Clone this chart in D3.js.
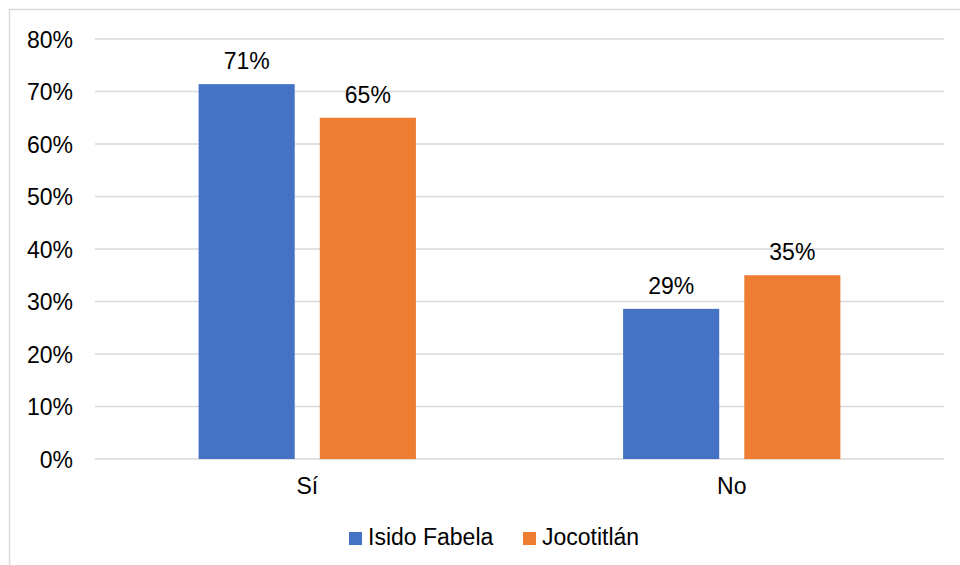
<!DOCTYPE html>
<html>
<head>
  <meta charset="utf-8">
  <script src="https://d3js.org/d3.v7.min.js"></script>
  <style>
  body { margin:0; background:#fff; }
  svg { font-family: "Liberation Sans", Arial, sans-serif; }
  .axis text { font-size: 23px; fill: #000; }
  .axis path, .axis line { display: none; }
</style>
</head>
<body>
<script>
  var categories = ["Sí", "No"];
  var seriesNames = ["Isido Fabela", "Jocotitlán"];
  var isidoFabela = [71.4, 28.6];
  var jocotitlan = [65, 35];
  var valueLabels = [["71%", "29%"], ["65%", "35%"]];
  var yTicks = [0, 10, 20, 30, 40, 50, 60, 70, 80];
  var colors = ["#4472C4", "#ED7D31"];

  var series = [isidoFabela, jocotitlan];

  var margin = {top: 39, right: 16, bottom: 106, left: 95},
    width = 960 - margin.left - margin.right,
    height = 565 - margin.top - margin.bottom;

  var root = d3.select("body").append("svg")
    .attr("width", 960)
    .attr("height", 565);

  // outer frame, runs off the right and bottom edges
  root.append("rect")
    .attr("x", 9.5).attr("y", 9.5)
    .attr("width", 980).attr("height", 600)
    .attr("fill", "none")
    .attr("stroke", "#d9d9d9")
    .attr("stroke-width", 1.5);

  var svg = root.append("g")
    .attr("transform", "translate(" + margin.left + "," + margin.top + ")");

  var x = d3.scaleBand().domain(categories).range([0, width]).padding(0);
  var xs = d3.scaleBand().domain([0, 1]).range([0, x.bandwidth()]).paddingInner(0.207).paddingOuter(0.855);
  var y = d3.scaleLinear().domain([0, 80]).range([height, 0]);

  svg.append("g")
    .selectAll("line")
    .data(yTicks)
    .enter().append("line")
    .attr("x1", 0).attr("x2", width)
    .attr("y1", d => y(d)).attr("y2", d => y(d))
    .attr("stroke", "#d9d9d9")
    .attr("stroke-width", 1.5);

  svg.append("g")
    .attr("class", "y axis")
    .call(d3.axisLeft(y).tickValues(yTicks).tickFormat(d => d + "%").tickSize(0).tickPadding(22))
    .selectAll("text").attr("dy", "0.35em");

  svg.append("g")
    .attr("class", "x axis")
    .attr("transform", "translate(0," + height + ")")
    .call(d3.axisBottom(x).tickSize(0).tickPadding(19));

  series.forEach(function(vals, si) {
    var g = svg.append("g");
    g.selectAll("rect")
      .data(vals)
      .enter().append("rect")
      .attr("x", (d, i) => x(categories[i]) + xs(si))
      .attr("width", xs.bandwidth())
      .attr("y", d => y(d))
      .attr("height", d => height - y(d))
      .attr("fill", colors[si]);
    g.selectAll("text")
      .data(vals)
      .enter().append("text")
      .attr("x", (d, i) => x(categories[i]) + xs(si) + xs.bandwidth() / 2)
      .attr("y", d => y(d) - 15)
      .attr("text-anchor", "middle")
      .attr("font-size", 23)
      .text((d, i) => valueLabels[si][i]);
  });

  // legend
  var legend = root.append("g").attr("transform", "translate(349,532)");
  var offsets = [0, 174];
  seriesNames.forEach(function(name, i) {
    var item = legend.append("g").attr("transform", "translate(" + offsets[i] + ",0)");
    item.append("rect").attr("width", 13).attr("height", 13).attr("fill", colors[i]);
    item.append("text").attr("x", 19).attr("y", 13).attr("font-size", 23).text(name);
  });
</script>
</body>
</html>
